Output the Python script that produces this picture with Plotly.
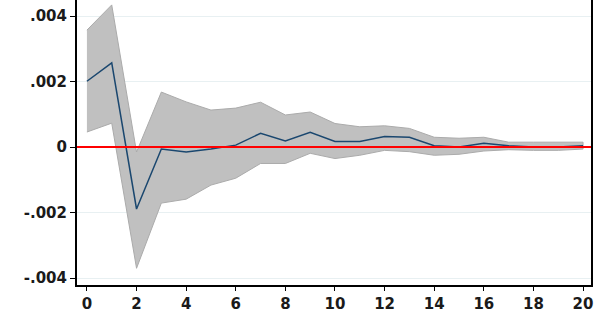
import plotly.graph_objects as go

# Impulse response: horizon, point estimate and confidence band
horizon = list(range(21))
irf = [0.00201, 0.00257, -0.00189, -0.00006, -0.00015, -0.00006, 0.00006, 0.00042,
       0.00019, 0.00045, 0.00017, 0.00017, 0.00032, 0.00030, 0.00004, 0.00000,
       0.00012, 0.00004, 0.00000, 0.00000, 0.00004]
upper = [0.00357, 0.00434, -0.00015, 0.00168, 0.00138, 0.00113, 0.00119, 0.00137,
         0.00098, 0.00107, 0.00072, 0.00062, 0.00065, 0.00057, 0.00030, 0.00027,
         0.00030, 0.00015, 0.00015, 0.00015, 0.00015]
lower = [0.00046, 0.00073, -0.00370, -0.00171, -0.00159, -0.00116, -0.00095, -0.00050,
         -0.00050, -0.00019, -0.00035, -0.00025, -0.00010, -0.00014, -0.00025, -0.00022,
         -0.00012, -0.00008, -0.00010, -0.00010, -0.00006]

x_ticks = [0, 2, 4, 6, 8, 10, 12, 14, 16, 18, 20]
y_ticks = [-0.004, -0.002, 0, 0.002, 0.004]
y_tick_labels = ["-.004", "-.002", "0", ".002", ".004"]

fig = go.Figure()

# Confidence band as a closed polygon
fig.add_trace(go.Scatter(
    x=horizon + horizon[::-1],
    y=upper + lower[::-1],
    fill="toself",
    fillcolor="#c0c0c0",
    line=dict(color="#ababab", width=1),
    mode="lines",
    hoverinfo="skip",
    showlegend=False,
))

# Point estimate
fig.add_trace(go.Scatter(
    x=horizon, y=irf, mode="lines",
    line=dict(color="#1a476f", width=1.5),
    showlegend=False,
))

# Zero reference line
fig.add_shape(type="line", xref="paper", x0=0, x1=1, yref="y", y0=0, y1=0,
              line=dict(color="#ff0000", width=2), layer="above")

fig.update_layout(
    width=602, height=322,
    margin=dict(l=77, r=11, t=0, b=37),
    paper_bgcolor="white",
    plot_bgcolor="white",
    font=dict(family="DejaVu Sans, Verdana, sans-serif", size=15, color="#1a1a1a",
              weight="bold"),
    xaxis=dict(
        range=[-0.4, 20.32],
        tickmode="array", tickvals=x_ticks,
        ticks="outside", ticklen=4, tickwidth=1, tickcolor="black",
        showgrid=False, zeroline=False,
        showline=True, linecolor="black", linewidth=2,
    ),
    yaxis=dict(
        range=[-0.00421, 0.00449],
        tickmode="array", tickvals=y_ticks, ticktext=y_tick_labels,
        ticks="outside", ticklen=5, tickwidth=1, tickcolor="black",
        showgrid=True, gridcolor="#e8f0f2", gridwidth=1,
        zeroline=False,
        showline=True, linecolor="black", linewidth=2, mirror=True,
    ),
)

fig.write_html("out.html")
